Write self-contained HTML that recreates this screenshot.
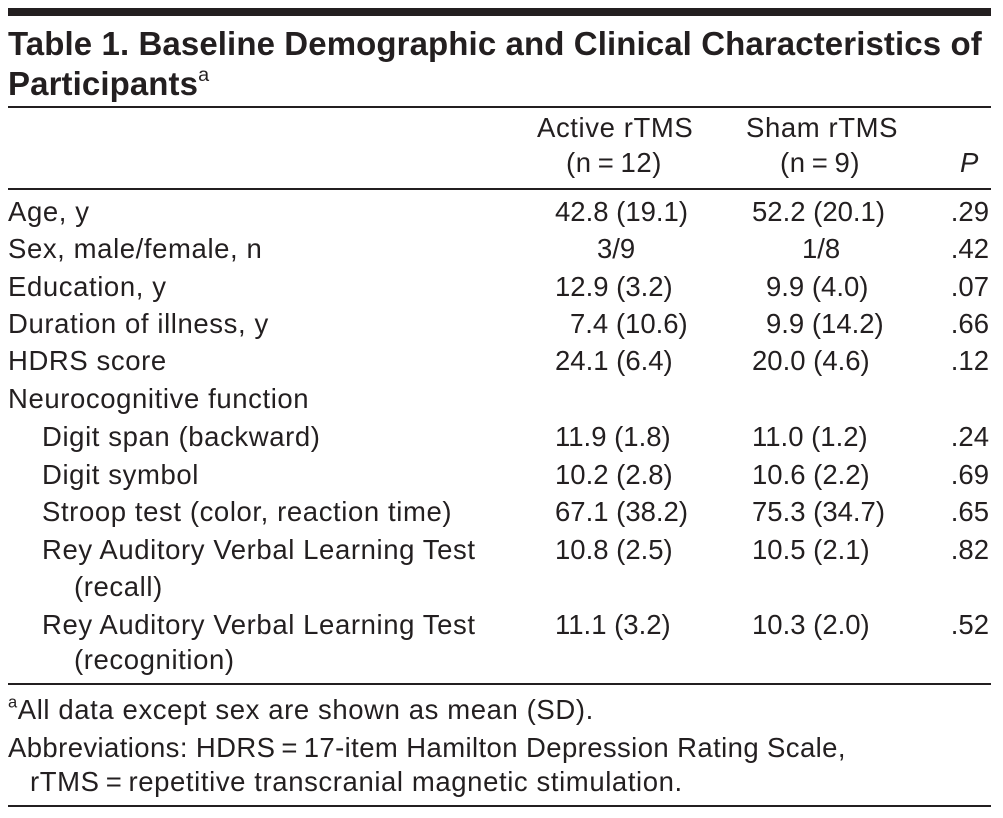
<!DOCTYPE html>
<html><head><meta charset="utf-8"><style>
body{margin:0;width:1003px;height:818px;background:#fff;position:relative;overflow:hidden;font-family:"Liberation Sans",sans-serif;color:#231f20}
.t{position:absolute;font-size:27.5px;line-height:30px;white-space:nowrap;letter-spacing:0.6px}
.n{letter-spacing:0}
.b{font-weight:bold;font-size:33px;line-height:36px;letter-spacing:0.1px}
.r{text-align:right}
.hl{position:absolute;left:8px;width:983px;background:#231f20}
sup{font-size:60%;line-height:0;vertical-align:0.7em}
</style></head><body>
<div class="hl" style="top:8px;height:8px"></div>
<div class="hl" style="top:106px;height:2px"></div>
<div class="hl" style="top:188px;height:2px"></div>
<div class="hl" style="top:683px;height:2px"></div>
<div class="hl" style="top:805px;height:2px"></div>

<div class="t b" style="left:8px;top:26px">Table 1. Baseline Demographic and Clinical Characteristics of</div>
<div class="t b" style="left:8px;top:66px">Participants<sup style="font-weight:normal">a</sup></div>

<div class="t" style="left:537px;top:113px">Active rTMS</div>
<div class="t" style="left:566px;top:148px">(n&thinsp;=&thinsp;12)</div>
<div class="t" style="left:746px;top:113px">Sham rTMS</div>
<div class="t" style="left:780px;top:148px">(n&thinsp;=&thinsp;9)</div>
<div class="t" style="left:960px;top:148px;font-style:italic">P</div>

<div class="t" style="left:8px;top:197px">Age, y</div>
<div class="t" style="left:8px;top:234px">Sex, male/female, n</div>
<div class="t" style="left:8px;top:272px">Education, y</div>
<div class="t" style="left:8px;top:309px">Duration of illness, y</div>
<div class="t" style="left:8px;top:346px">HDRS score</div>
<div class="t" style="left:8px;top:384px">Neurocognitive function</div>
<div class="t" style="left:42px;top:422px">Digit span (backward)</div>
<div class="t" style="left:42px;top:460px">Digit symbol</div>
<div class="t" style="left:42px;top:497px">Stroop test (color, reaction time)</div>
<div class="t" style="left:42px;top:535px">Rey Auditory Verbal Learning Test</div>
<div class="t" style="left:74px;top:572px">(recall)</div>
<div class="t" style="left:42px;top:610px">Rey Auditory Verbal Learning Test</div>
<div class="t" style="left:74px;top:645px">(recognition)</div>

<div class="t n" style="left:555px;top:197px">42.8 (19.1)</div>
<div class="t n" style="left:597px;top:234px">3/9</div>
<div class="t n" style="left:555px;top:272px">12.9 (3.2)</div>
<div class="t n" style="left:570px;top:309px">7.4 (10.6)</div>
<div class="t n" style="left:555px;top:346px">24.1 (6.4)</div>
<div class="t n" style="left:555px;top:422px">11.9 (1.8)</div>
<div class="t n" style="left:555px;top:460px">10.2 (2.8)</div>
<div class="t n" style="left:555px;top:497px">67.1 (38.2)</div>
<div class="t n" style="left:555px;top:535px">10.8 (2.5)</div>
<div class="t n" style="left:555px;top:610px">11.1 (3.2)</div>

<div class="t n" style="left:752px;top:197px">52.2 (20.1)</div>
<div class="t n" style="left:802px;top:234px">1/8</div>
<div class="t n" style="left:766px;top:272px">9.9 (4.0)</div>
<div class="t n" style="left:766px;top:309px">9.9 (14.2)</div>
<div class="t n" style="left:752px;top:346px">20.0 (4.6)</div>
<div class="t n" style="left:752px;top:422px">11.0 (1.2)</div>
<div class="t n" style="left:752px;top:460px">10.6 (2.2)</div>
<div class="t n" style="left:752px;top:497px">75.3 (34.7)</div>
<div class="t n" style="left:752px;top:535px">10.5 (2.1)</div>
<div class="t n" style="left:752px;top:610px">10.3 (2.0)</div>

<div class="t r n" style="right:14px;top:197px">.29</div>
<div class="t r n" style="right:14px;top:234px">.42</div>
<div class="t r n" style="right:14px;top:272px">.07</div>
<div class="t r n" style="right:14px;top:309px">.66</div>
<div class="t r n" style="right:14px;top:346px">.12</div>
<div class="t r n" style="right:14px;top:422px">.24</div>
<div class="t r n" style="right:14px;top:460px">.69</div>
<div class="t r n" style="right:14px;top:497px">.65</div>
<div class="t r n" style="right:14px;top:535px">.82</div>
<div class="t r n" style="right:14px;top:610px">.52</div>

<div class="t" style="left:8px;top:695px"><sup>a</sup>All data except sex are shown as mean (SD).</div>
<div class="t" style="left:8px;top:733px;letter-spacing:0.4px">Abbreviations: HDRS&thinsp;=&thinsp;17-item Hamilton Depression Rating Scale,</div>
<div class="t" style="left:30px;top:767px">rTMS&thinsp;=&thinsp;repetitive transcranial magnetic stimulation.</div>
</body></html>
